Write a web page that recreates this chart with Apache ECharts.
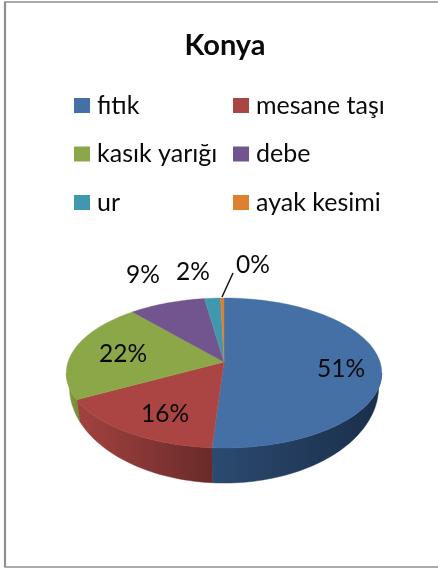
<!DOCTYPE html>
<html><head><meta charset="utf-8">
<style>html,body{margin:0;padding:0;background:#fff}#c{width:438px;height:569px}</style>
<script src="https://cdn.jsdelivr.net/npm/echarts@6/dist/echarts.min.js"></script>
</head><body><div id="c"></div>
<script>
const categories = ['fıtık','mesane taşı','kasık yarığı','debe','ur','ayak kesimi'];
const values = [51,16,21.6,9,1.9,0.4];
const colors = ['#4570a6','#ab4543','#8ba748','#72558f','#3f98ae','#e0802f'];
const wallDark = ['#1a2e4a','#682b29','#6f8738','#5a4372','#2f7486','#b0641f'];
const wallLight = ['#2c4a70','#a34240','#87a144','#6a4f88','#3a8da2','#d07729'];
const labelAnchors = [[341,369],[165,414],[123,354],[143,275],[193,272],[253,265]];
const titleText = 'Konya';

const FONT = 'Lato';
const total = values.reduce((a,b)=>a+b,0);
const cx=224, cy=362, R=156, A=73.4, K=0.1467;
const project = (deg)=>{
  const t=deg*Math.PI/180, w=1+K*Math.cos(t);
  return [cx+R*Math.sin(t)/w, cy-A*Math.cos(t)/w];
};
// lower rim of the disc: a slightly narrower, deeper ellipse (camera perspective)
const rim = (p)=>[cx+(p[0]-cx)*0.98, 387+(p[1]-373)*96/75];
const WALL_FROM = 98.4, WALL_TO = 261.6;
const arc=(a,b)=>{const n=Math.max(2,Math.ceil((b-a)/1.5));const p=[];for(let i=0;i<=n;i++)p.push(project(a+(b-a)*i/n));return p;};

const series = categories.map((name,i)=>({
  type:'custom', name, coordinateSystem:'none', silent:true, animation:false,
  itemStyle:{color:colors[i]},
  data:[[values[i]]],
  renderItem(params,api){
    const before = values.slice(0,i).reduce((a,b)=>a+b,0);
    const a0 = before/total*360, a1 = a0 + api.value(0)/total*360;
    const children=[];
    const wa=Math.max(a0,WALL_FROM), wb=Math.min(a1,WALL_TO);
    if(wb>wa){
      const top=arc(wa,wb), bot=top.map(rim).reverse();
      const pts=top.concat(bot);
      const fill=new echarts.graphic.LinearGradient(0,0,1,0,[{offset:0,color:wallLight[i]},{offset:1,color:wallDark[i]}]);
      children.push({type:'polygon',z2:1,shape:{points:pts},style:{fill,stroke:fill,lineWidth:0.5}});
    }
    children.push({type:'polygon',z2:2,shape:{points:[[cx,cy]].concat(arc(a0,a1))},
      style:{fill:colors[i],stroke:colors[i],lineWidth:0.4}});
    const pct=Math.round(api.value(0)/total*100)+'%';
    const [lx,ly]=labelAnchors[i];
    children.push({type:'text',z2:5,x:lx,y:ly,style:{text:pct,font:'24.5px '+FONT,fill:'#0a0a0a',align:'center',verticalAlign:'middle'}});
    if(i===5){
      children.push({type:'line',z2:5,shape:{x1:222,y1:297,x2:233,y2:273},style:{stroke:'#111',lineWidth:1.5}});
    }
    return {type:'group',children};
  }
}));

const legendCommon={orient:'vertical',icon:'rect',itemWidth:16,itemHeight:15,itemGap:23.5,padding:0,
  selectedMode:false,textStyle:{fontFamily:FONT,fontSize:25,color:'#0a0a0a',padding:[0,0,0,2]}};
const chart=echarts.init(document.getElementById('c'),null,{renderer:'canvas'});
chart.setOption({
  animation:false,backgroundColor:'#fff',
  title:{text:titleText,left:220,top:26,textAlign:'center',textStyle:{fontFamily:FONT,fontWeight:'bold',fontSize:29,color:'#0a0a0a'}},
  legend:[
    Object.assign({},legendCommon,{left:74,top:93,data:[categories[0],categories[2],categories[4]]}),
    Object.assign({},legendCommon,{left:233,top:93,data:[categories[1],categories[3],categories[5]]})
  ],
  graphic:[
    {type:'rect',silent:true,shape:{x:5,y:2,width:440,height:565},style:{fill:'none',stroke:'#8f8f8f',lineWidth:1.5}},
    {type:'line',silent:true,shape:{x1:5,y1:2,x2:5,y2:567},style:{stroke:'#8f8f8f',lineWidth:2.2}}
  ],
  series
});
</script></body></html>
